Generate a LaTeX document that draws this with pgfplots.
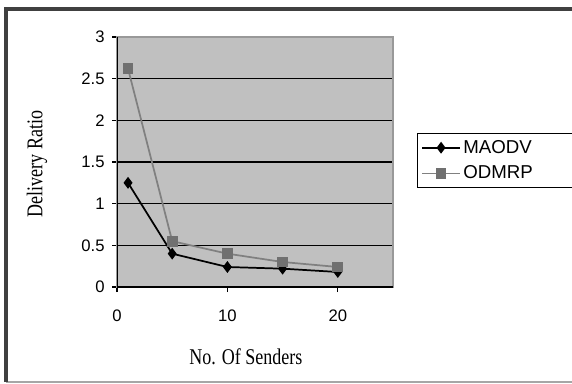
\documentclass[border=0pt]{standalone}
\usepackage{graphicx}
\usepackage{pgfplots}
\pgfplotsset{compat=1.18}
\usepackage{fontspec}
\setmainfont{Liberation Sans}
\newfontfamily\seriff{Liberation Serif}
\definecolor{plotbg}{RGB}{192,192,192}
\definecolor{odm}{RGB}{128,128,128}
\definecolor{odmmark}{RGB}{112,112,112}
\begin{document}
\begin{tikzpicture}[x=0.75pt,y=0.75pt]
\useasboundingbox (0,0) rectangle (572,383);
\fill[white] (0,0) rectangle (572,383);
\draw[line width=1.5pt, black!35] (6,1.5) -- (590,1.5);
\draw[line width=2.4pt, black!75] (6,1) -- (6,374) -- (590,374);
\begin{axis}[
  at={(87.75pt,72pt)}, anchor=south west,
  scale only axis, width=207pt, height=187.5pt,
  xmin=0, xmax=25, ymin=0, ymax=3,
  xtick={0,10,20}, ytick={0,0.5,1,1.5,2,2.5,3},
  xtick pos=bottom, ytick pos=left,
  tick align=outside, major tick length=3.75pt,
  tick style={black, line width=0.9pt},
  axis background/.style={fill=plotbg},
  axis line style={black!40, line width=0.9pt},
  ymajorgrids, grid style={black, line width=1pt},
  /pgf/number format/assume math mode=true,
  ticklabel style={font=\fontsize{12.5}{13}\selectfont},
  xticklabel style={yshift=-10pt},
  yticklabel style={xshift=-2pt},
  xlabel={\scalebox{1}[1.25]{\seriff\fontsize{13.5}{14}\selectfont No. Of Senders}},
  ylabel={\scalebox{1}[1.25]{\seriff\fontsize{13.5}{14}\selectfont Delivery Ratio}},
  xlabel style={at={(axis description cs:0.467,-0.28)}, anchor=center},
  ylabel style={at={(axis description cs:-0.29,0.492)}, anchor=center},
  legend entries={\makebox[80pt][l]{MAODV}, \makebox[80pt][l]{ODMRP}},
  legend cell align=left,
  legend style={at={(axis description cs:1.087,0.616)}, anchor=north west,
    draw=black, line width=0.8pt, font=\fontsize{14}{14}\selectfont,
    row sep=4pt, inner xsep=3pt, inner ysep=3pt},
  legend image code/.code={\draw[mark repeat=2,mark phase=2,#1] plot coordinates {(0pt,0pt)(14pt,0pt)(28pt,0pt)};},
]
\draw[black, line width=1pt] (rel axis cs:0,1) -- (rel axis cs:0,0) -- (rel axis cs:1,0);
\addplot[black, line width=1.3pt, mark=diamond*, mark size=3.4pt, mark options={fill=black, draw=black}]
  coordinates {(1,1.25) (5,0.40) (10,0.24) (15,0.22) (20,0.18)};
\addplot[odm, line width=1.3pt, mark=square*, mark size=3.4pt, mark options={fill=odmmark, draw=odmmark}]
  coordinates {(1,2.62) (5,0.55) (10,0.40) (15,0.30) (20,0.24)};
\end{axis}
\end{tikzpicture}
\end{document}
